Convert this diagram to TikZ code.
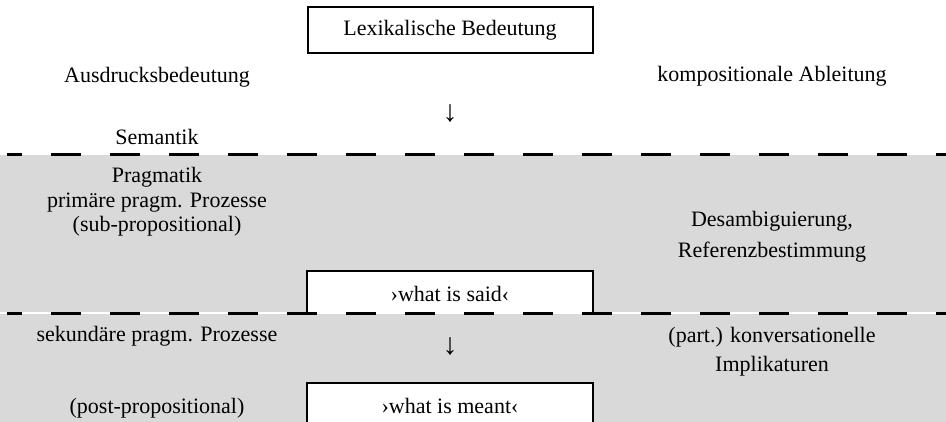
\documentclass[tikz,border=0pt]{standalone}
\usepackage{fontspec}
\setmainfont{Liberation Serif}
\usepackage{xcolor}
\definecolor{prgrau}{RGB}{217,217,217}

\begin{document}
\begin{tikzpicture}[
        x=0.5pt,y=-0.5pt,
        every node/.style={font=\fontsize{11}{12}\selectfont,inner sep=0pt},
        lbl/.style={anchor=base,align=center},
        pfeil/.style={font=\fontsize{15}{15}\selectfont},
        feld/.style={fill=white,minimum width=142.5pt},
        kante/.style={line width=1pt,draw=black},
        trenner/.style={line width=1.5pt,dash pattern=on 15pt off 14.5pt,dash phase=7.5pt}
      ]
        \useasboundingbox (0,0) rectangle (946,422);
        % grauer Bereich (Pragmatik)
        \fill[prgrau] (0,155) rectangle (946,422);
        \draw[white,line width=1pt] (0,313) -- (946,313);

        % Kaesten
        \node[feld,kante,draw,minimum height=23pt] (lex) at (450,30) {Lexikalische Bedeutung};
        \node[feld,minimum height=20.5pt,anchor=south] (said) at (450,313) {};
        \node[lbl] (saidtxt) at (450,301) {›what is said‹};
        \draw[kante] (said.south west) |- (said.north east) -- (said.south east);
        \node[feld,minimum height=24pt,anchor=north] (meant) at (450,383) {};
        \node[lbl] (meanttxt) at (450,413) {›what is meant‹};
        \draw[kante] (meant.south west) |- (meant.north east) -- (meant.south east);

        % Trennlinien
        \draw[trenner] (7,155) -- (946,155);
        \draw[trenner] (7,313) -- (946,313);

        % linke Spalte
        \node[lbl] (ausdr) at (157,83) {Ausdrucksbedeutung};
        \node[lbl] (sem) at (157,145) {Semantik};
        \node[lbl] (prag) at (157,183) {Pragmatik};
        \node[lbl] (prim) at (157,207) {primäre pragm. Prozesse};
        \node[lbl] (subprop) at (157,231) {(sub-propositional)};
        \node[lbl] (sek) at (157,341) {sekundäre pragm. Prozesse};
        \node[lbl] (postprop) at (157,413) {(post-propositional)};

        % Mitte
        \node[pfeil] (pfeil1) at (450,114) {↓};
        \node[pfeil] (pfeil2) at (450,347) {↓};

        % rechte Spalte
        \node[lbl] (komp) at (772,82) {kompositionale Ableitung};
        \node[lbl] (desamb) at (772,227) {Desambiguierung,};
        \node[lbl] (refbest) at (772,257) {Referenzbestimmung};
        \node[lbl] (konv) at (772,342) {(part.) konversationelle};
        \node[lbl] (impl) at (772,371) {Implikaturen};
      \end{tikzpicture}
\end{document}
